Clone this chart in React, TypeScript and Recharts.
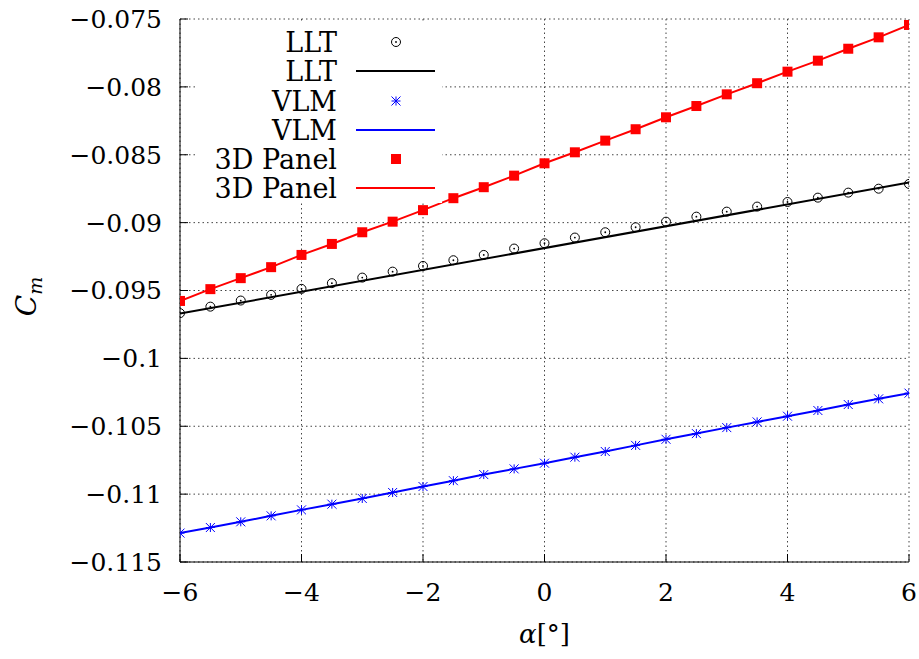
import { ComposedChart, Line, XAxis, YAxis, CartesianGrid, Legend } from "recharts";

const alpha = [-6, -5.5, -5, -4.5, -4, -3.5, -3, -2.5, -2, -1.5, -1, -0.5, 0, 0.5, 1, 1.5, 2, 2.5, 3, 3.5, 4, 4.5, 5, 5.5, 6];

const lltValues = [
  -0.09667, -0.09619, -0.09574, -0.09532, -0.09488, -0.09446, -0.09405, -0.09361, -0.09319, -0.09277, -0.09238, -0.09191,
  -0.09152, -0.0911, -0.09071, -0.09034, -0.08993, -0.08956, -0.08919, -0.08882, -0.08848, -0.08816, -0.08779, -0.0875, -0.08715,
];

const lltFitAlpha = [-6, 6];
const lltFitValues = [-0.0967, -0.08705];

const vlmValues = [
  -0.11287, -0.11246, -0.11204, -0.1116, -0.11116, -0.11074, -0.11032, -0.10988, -0.10944, -0.10901, -0.10856, -0.10814,
  -0.10772, -0.10728, -0.10686, -0.10641, -0.10596, -0.10554, -0.1051, -0.10468, -0.10426, -0.10384, -0.1034, -0.10298, -0.10256,
];

const panelValues = [
  -0.09577, -0.0949, -0.09409, -0.09328, -0.09238, -0.09157, -0.09071, -0.08993, -0.08908, -0.0882, -0.08739, -0.08654,
  -0.08563, -0.08482, -0.08396, -0.08312, -0.08224, -0.08141, -0.08055, -0.07973, -0.07888, -0.07807, -0.07719, -0.07635, -0.07544,
];

const xTicks = [-6, -4, -2, 0, 2, 4, 6];
const yTicks = [-0.115, -0.11, -0.105, -0.1, -0.095, -0.09, -0.085, -0.08, -0.075];

const legendLabels = ["LLT", "LLT", "VLM", "VLM", "3D Panel", "3D Panel"];

const llt = alpha.map((a, i) => ({ a, v: lltValues[i] }));
const lltFit = lltFitAlpha.map((a, i) => ({ a, v: lltFitValues[i] }));
const vlm = alpha.map((a, i) => ({ a, v: vlmValues[i] }));
const panel = alpha.map((a, i) => ({ a, v: panelValues[i] }));

const FONT = "DejaVu Serif";
const minus = (v: number) => String(v).replace("-", "\u2212");

function Ring({ cx, cy }: any) {
  if (cx == null || cy == null) return null;
  return (
    <g>
      <circle cx={cx} cy={cy} r={4.5} fill="none" stroke="#000" strokeWidth={1} />
      <circle cx={cx} cy={cy} r={0.9} fill="#000" />
    </g>
  );
}

function Star({ cx, cy }: any) {
  if (cx == null || cy == null) return null;
  const s = 4.5;
  return (
    <g stroke="#0000ff" strokeWidth={1}>
      <line x1={cx - s} y1={cy} x2={cx + s} y2={cy} />
      <line x1={cx} y1={cy - s} x2={cx} y2={cy + s} />
      <line x1={cx - s} y1={cy - s} x2={cx + s} y2={cy + s} />
      <line x1={cx - s} y1={cy + s} x2={cx + s} y2={cy - s} />
    </g>
  );
}

function Square({ cx, cy }: any) {
  if (cx == null || cy == null) return null;
  return <rect x={cx - 5} y={cy - 5} width={10} height={10} fill="#ff0000" />;
}

function KeyBox() {
  const rows = [21, 50, 80, 109, 138, 167];
  const textX = 139;
  return (
    <svg width={244} height={182} style={{ display: "block" }}>
      <rect x={0} y={0} width={244} height={182} fill="#fff" />
      {legendLabels.map((label, i) => (
        <text key={i} x={textX} y={rows[i] + 10} textAnchor="end" fontFamily={FONT} fontSize={27} fill="#000">
          {label}
        </text>
      ))}
      <Ring cx={198} cy={rows[0]} />
      <line x1={158} y1={rows[1]} x2={237} y2={rows[1]} stroke="#000" strokeWidth={2} />
      <Star cx={198} cy={rows[2]} />
      <line x1={158} y1={rows[3]} x2={237} y2={rows[3]} stroke="#0000ff" strokeWidth={2} />
      <Square cx={198} cy={rows[4]} />
      <line x1={158} y1={rows[5]} x2={237} y2={rows[5]} stroke="#ff0000" strokeWidth={2} />
    </svg>
  );
}

function YLabel({ viewBox }: any) {
  const cx = 36;
  const cy = viewBox.y + viewBox.height / 2 + 6;
  return (
    <text x={cx} y={cy} transform={`rotate(-90, ${cx}, ${cy})`} textAnchor="middle" fontFamily={FONT} fill="#000">
      <tspan fontSize={28} fontStyle="italic">C</tspan>
      <tspan fontSize={19} fontStyle="italic" dy={6}>m</tspan>
    </text>
  );
}

function XLabel({ viewBox }: any) {
  const cx = viewBox.x + viewBox.width / 2;
  return (
    <text x={cx} y={643} textAnchor="middle" fontFamily={FONT} fontSize={26} fill="#000">
      <tspan fontStyle="italic">α</tspan>
      <tspan>[°]</tspan>
    </text>
  );
}

export default function App() {
  return (
    <div style={{ position: "absolute", left: 0, top: 0, width: 919, height: 659, background: "#fff", fontFamily: FONT }}>
      <ComposedChart width={919} height={659} margin={{ top: 19, right: 10, bottom: 37, left: 0 }}>
        <CartesianGrid stroke="#444" strokeDasharray="1.5 3" />
        <XAxis
          dataKey="a"
          type="number"
          domain={[-6, 6]}
          ticks={xTicks}
          height={60}
          allowDataOverflow
          stroke="#000"
          tickSize={-8}
          tickMargin={29}
          tickFormatter={minus}
          tick={{ fill: "#000", fontSize: 25, fontFamily: FONT }}
          label={<XLabel />}
        />
        <XAxis xAxisId="t" orientation="top" type="number" domain={[-6, 6]} ticks={xTicks} height={0} stroke="#000" tickSize={-8} tick={false} />
        <YAxis
          type="number"
          domain={[-0.115, -0.075]}
          ticks={yTicks}
          width={180}
          allowDataOverflow
          stroke="#000"
          tickSize={-8}
          tickMargin={26}
          tickFormatter={minus}
          tick={{ fill: "#000", fontSize: 25, fontFamily: FONT }}
          label={<YLabel />}
        />
        <YAxis yAxisId="r" orientation="right" type="number" domain={[-0.115, -0.075]} ticks={yTicks} width={0} stroke="#000" tickSize={-8} tick={false} />
        <Legend
          layout="horizontal"
          verticalAlign="middle"
          content={() => <KeyBox />}
          wrapperStyle={{ position: "absolute", left: 198, top: 21, width: 244, height: 182 }}
        />
        <Line data={llt} dataKey="v" stroke="none" dot={<Ring />} activeDot={false} isAnimationActive={false} />
        <Line data={lltFit} dataKey="v" stroke="#000" strokeWidth={2} dot={false} activeDot={false} isAnimationActive={false} />
        <Line data={vlm} dataKey="v" stroke="#0000ff" strokeWidth={2} dot={<Star />} activeDot={false} isAnimationActive={false} />
        <Line data={panel} dataKey="v" stroke="#ff0000" strokeWidth={2} dot={<Square />} activeDot={false} isAnimationActive={false} />
      </ComposedChart>
    </div>
  );
}
